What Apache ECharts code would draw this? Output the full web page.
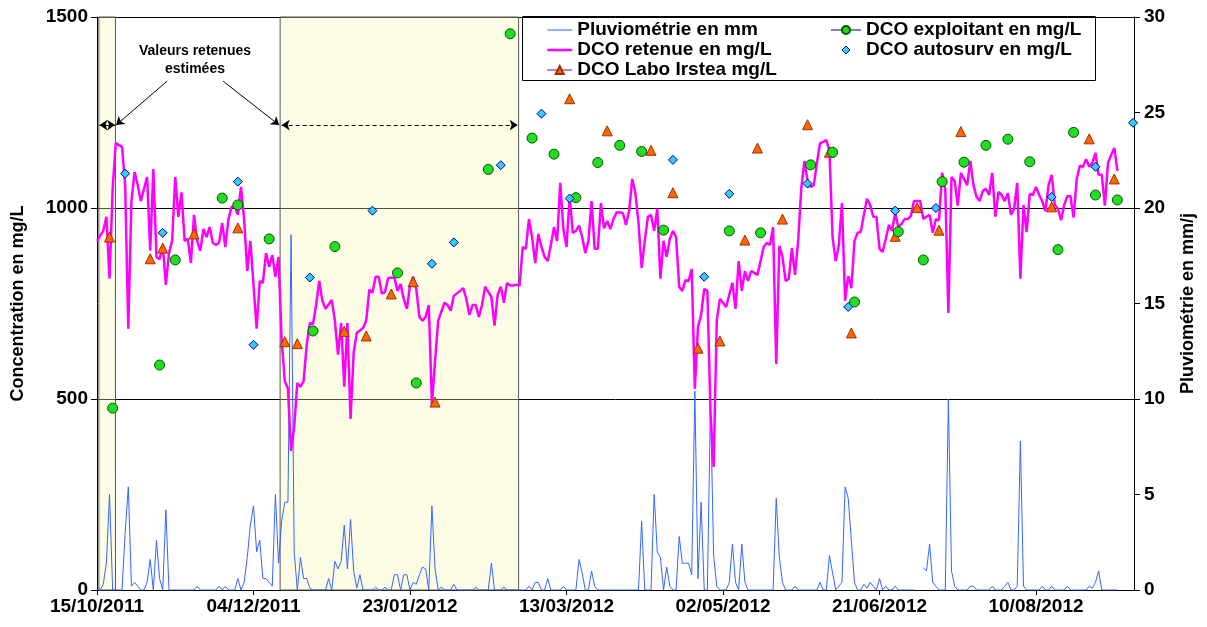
<!DOCTYPE html>
<html>
<head>
<meta charset="utf-8">
<script src="https://cdn.jsdelivr.net/npm/echarts@6/dist/echarts.min.js"></script>
<style>
html, body { margin: 0; background: #fff; }
#main-chart { width: 1207px; height: 627px; }
</style>
</head>
<body>
<div id="main-chart"></div>
<script>
// jours comptés depuis le 15/10/2011
const startDate = new Date(2011, 9, 15)

// pluviométrie journalière (mm/j), jour 0 à 326
const pluvio = [
  0, 0, 0.3, 1.4, 5, 0, 0, 0, 0, 3,
  5.4, 0.2, 0.4, 0.2, 0, 0, 0.4, 1.6, 0, 2.6,
  0.6, 0, 4.2, 0, 0, 0, 0, 0, 0, 0,
  0, 0, 0.2, 0, 0, 0, 0, 0, 0, 0.2,
  0, 0.2, 0, 0, 0, 0.6, 0, 0.4, 1.7, 3.4,
  4.4, 2, 2.6, 0.6, 0.6, 0.4, 0.2, 5, 1.4, 3.6,
  4.6, 4.6, 18.6, 2, 0, 1.7, 0.6, 0.6, 0.1, 0,
  0, 0, 0, 0, 0.6, 0, 1.5, 1.1, 1.5, 3.4,
  1.1, 3.7, 1, 0.1, 0.8, 0, 0, 0, 0, 0.15,
  0, 0, 0.15, 0, 0, 0.8, 0.8, 0, 0.8, 0.8,
  0, 0.4, 0.3, 0.8, 1.2, 1.1, 0, 4.4, 1.1, 0,
  0.15, 0, 0, 0, 0.3, 0, 0, 0, 0, 0,
  0, 0.15, 0, 0, 0, 0, 1.4, 0, 0, 0,
  0.15, 0, 0, 0, 0, 0, 0, 0, 0.2, 0,
  0.4, 0.4, 0, 0, 0.6, 0, 0, 0, 0, 0.2,
  0, 0, 0, 0, 1.6, 0.9, 0, 0, 1, 0.2,
  0, 0, 0, 0, 0, 0, 0, 0, 0, 0,
  0, 0, 0, 0, 3.6, 0, 0, 0, 5, 2,
  1.7, 0, 1.2, 0.2, 0, 0, 2.8, 1.4, 1.4, 1.4,
  0.8, 10.4, 0.6, 4.6, 0, 0, 9.8, 1.8, 0.2, 0,
  0, 0, 0.4, 2.4, 0.4, 0, 2.4, 0.4, 0, 0,
  0, 0, 0, 0, 0, 0, 0, 4.8, 1.7, 0.4,
  0, 0, 0, 0.2, 0, 0, 0, 0, 0, 0,
  0, 0.4, 0, 0, 1.8, 0.9, 0, 0.2, 0.4, 5.4,
  4.8, 2.6, 0.4, 0, 0, 0.3, 0.1, 0.4, 0.2, 0,
  0.6, 0, 0.2, 0, 0, 0.2, 0, 0, 0, 0,
  0, 0, null, null, 1.15, 1, 2.4, 0.4, 0.2, 0,
  0, 0, 10, 1, 0.2, 0, 0, 0, 0, 0.2,
  0.2, 0, 0, 0, 0, 0, 0.2, 0, 0, 0,
  0.2, 0.4, 0, 0, 0.2, 7.8, 0.2, 0, 0, 0,
  0, 0, 0.2, 0, 0, 0.2, 0, 0, 0, 0,
  0.2, 0, 0, 0, 0, 0, 0, 0.2, 0.1, 0.4,
  1, 0, 0, 0, 0, 0, 0
]

// DCO retenue [jour, mg/L]
const dcoRetenue = [
  [0,914],[2,940],[3,977],[4,815],[5,1050],[6,1170],[8,1160],[9,1060],[10,684],[11,1018],
  [12,1094],[13,1060],[14,1018],[16,1081],[17,888],[18,1102],[19,872],[20,866],[21,903],[22,799],
  [23,882],[24,914],[25,1081],[26,977],[27,1041],[28,914],[29,919],[30,856],[31,982],[32,914],
  [33,888],[34,945],[35,924],[36,950],[37,909],[38,903],[39,909],[40,961],[41,898],[42,971],
  [43,1003],[44,1003],[45,982],[46,1055],[47,971],[48,835],[49,914],[50,799],[51,684],[52,809],
  [53,804],[54,882],[55,846],[56,877],[57,820],[58,872],[59,652],[60,547],[61,527],[62,364],
  [63,427],[64,542],[65,532],[66,547],[67,642],[68,699],[69,696],[70,746],[71,809],[72,757],
  [73,736],[75,759],[76,705],[77,616],[78,699],[79,532],[80,699],[81,448],[82,621],[83,673],
  [85,686],[86,705],[87,786],[88,778],[89,820],[90,820],[91,776],[92,780],[93,817],[95,818],
  [96,783],[97,801],[98,762],[99,736],[100,797],[101,820],[102,788],[103,715],[104,705],[105,715],
  [106,746],[107,485],[108,600],[109,705],[111,752],[112,746],[113,731],[114,770],[116,783],[117,790],
  [118,762],[119,720],[120,746],[121,746],[122,715],[123,746],[124,794],[126,767],[127,692],[128,773],
  [129,794],[130,752],[131,804],[132,797],[133,797],[134,799],[135,797],[136,898],[137,893],[138,971],
  [139,924],[140,856],[141,932],[142,898],[143,872],[144,861],[145,903],[146,950],[147,914],[148,1066],
  [149,945],[150,898],[151,1029],[152,935],[153,940],[154,954],[155,924],[156,882],[157,914],[158,1018],
  [159,893],[160,893],[161,1013],[162,947],[163,966],[164,945],[165,971],[166,989],[167,988],[168,987],
  [169,956],[170,992],[171,1076],[172,1039],[173,961],[174,843],[175,914],[176,977],[177,982],[178,940],
  [179,998],[180,815],[181,914],[182,872],[183,919],[184,940],[185,924],[186,794],[187,783],[188,811],
  [189,809],[190,840],[191,527],[192,689],[193,720],[194,788],[195,783],[196,464],[197,322],[198,705],
  [199,762],[200,752],[201,741],[202,773],[203,804],[204,736],[205,861],[206,783],[207,835],[208,809],
  [209,835],[210,830],[211,825],[212,861],[213,898],[214,909],[215,903],[216,950],[217,591],[218,901],
  [219,872],[220,809],[221,814],[222,895],[223,825],[224,914],[225,1050],[226,1123],[227,1071],[228,1055],
  [229,1060],[230,1118],[231,1170],[232,1173],[233,1178],[234,1149],[235,924],[236,861],[237,903],[238,1013],
  [239,757],[240,822],[241,790],[242,914],[243,935],[244,937],[245,982],[246,1024],[247,1008],[248,977],
  [249,977],[250,893],[251,885],[252,919],[253,956],[254,940],[255,987],[256,950],[257,958],[258,971],
  [259,971],[260,979],[261,1018],[262,1018],[263,1018],[264,971],[265,977],[266,982],[267,935],[268,971],
  [269,968],[270,1092],[271,1050],[272,725],[273,1081],[274,1071],[275,1006],[276,1092],[278,1060],[279,1123],
  [280,1060],[281,1029],[282,1018],[283,1045],[284,1050],[285,1034],[286,1092],[287,977],[288,1042],[289,1034],
  [290,1018],[291,1039],[292,982],[293,998],[294,1066],[295,815],[296,1008],[297,937],[298,1037],[299,1034],
  [300,1055],[301,1034],[302,1018],[303,992],[304,1060],[305,1087],[306,1008],[307,998],[308,968],[309,1008],
  [310,1031],[311,1031],[312,975],[313,1076],[314,1111],[315,1108],[316,1128],[317,1108],[318,1118],[319,1144],
  [320,1087],[321,1087],[322,1006],[323,1118],[324,1139],[325,1157],[326,1097]
]

// DCO Labo Irstea [jour, mg/L]
const dcoLabo = [
  [4,924],[17,867],[21,895],[31,932],[45,948],[60,650],[64,645],[79,677],[86,665],[94,775],
  [101,807],[108,492],[151,1286],[163,1202],[177,1151],[184,1040],[192,633],[199,652],[207,916],[211,1157],
  [219,971],[227,1218],[234,1146],[241,673],[255,926],[262,1001],[269,942],[276,1200],[305,1003],[317,1181],
  [325,1076]
]

// DCO exploitant [jour, mg/L]
const dcoExploitant = [
  [5,476],[20,589],[25,864],[40,1026],[45,1008],[55,919],[69,678],[76,899],[96,830],[102,542],
  [125,1101],[132,1456],[139,1183],[146,1141],[153,1027],[160,1119],[167,1164],[174,1148],[181,942],[202,940],
  [212,935],[228,1113],[235,1146],[242,754],[256,938],[264,864],[270,1069],[277,1120],[284,1164],[291,1180],
  [298,1121],[307,891],[312,1198],[319,1034],[326,1021]
]

// DCO autosurv [jour, mg/L]
const dcoAutosurv = [
  [9,1090],[21,935],[45,1069],[50,642],[68,818],[88,993],[107,854],[114,910],[129,1112],[142,1247],
  [151,1025],[184,1126],[194,820],[202,1037],[227,1064],[240,741],[255,993],[268,1000],[305,1029],[319,1108],
  [331,1223]
]

// périodes où les valeurs retenues sont estimées (jours)
const periodesEstimees = [[0.6, 5.9], [58.5, 134.7]]

const font = '"Liberation Sans", Arial, sans-serif'
const myChart = echarts.init(document.getElementById('main-chart'))

function dayLabel(v) {
    if (v % 50 !== 0) return ''
    const d = new Date(startDate.getTime())
    d.setDate(d.getDate() + v)
    const p = n => (n < 10 ? '0' : '') + n
    return p(d.getDate()) + '/' + p(d.getMonth() + 1) + '/' + d.getFullYear()
}

const boldText = { fontFamily: font, fontWeight: 'bold', fontSize: 19, color: '#000' }
const titleText = { fontFamily: font, fontWeight: 'bold', fontSize: 18, color: '#000' }
const noSymbol = { opacity: 0 }

const option = {
    animation: false,
    grid: { left: 97, right: 73, top: 17, bottom: 37 },
    xAxis: {
        type: 'value', min: 0, max: 331.3, interval: 50,
        axisLine: { lineStyle: { color: '#000', width: 1 } },
        axisTick: { length: 5, lineStyle: { color: '#000' } },
        axisLabel: Object.assign({ margin: 7, formatter: dayLabel, showMaxLabel: false }, boldText),
        splitLine: { show: false }
    },
    yAxis: [{
        type: 'value', min: 0, max: 1500, interval: 500,
        name: 'Concentration en mg/L', nameLocation: 'middle', nameRotate: 90, nameGap: 70,
        nameTextStyle: titleText,
        axisLine: { show: true, lineStyle: { color: '#000' } },
        axisTick: { show: true, length: 6, lineStyle: { color: '#000' } },
        axisLabel: Object.assign({ margin: 9, formatter: v => String(v) }, boldText),
        splitLine: { lineStyle: { color: '#000', width: 1 } }
    }, {
        type: 'value', min: 0, max: 30, interval: 5, position: 'right',
        name: 'Pluviométrie en mm/j', nameLocation: 'middle', nameRotate: 90, nameGap: 45,
        nameTextStyle: titleText,
        axisLine: { show: true, lineStyle: { color: '#000' } },
        axisTick: { show: true, length: 6, lineStyle: { color: '#000' } },
        axisLabel: Object.assign({ margin: 10 }, boldText),
        splitLine: { show: false }
    }],
    legend: [{
        orient: 'vertical', left: 541, top: 15, itemWidth: 25, itemHeight: 10, itemGap: 0,
        textStyle: Object.assign({ lineHeight: 20 }, boldText),
        data: [
            { name: 'Pluviométrie en mm', itemStyle: noSymbol, lineStyle: { color: '#3366FF', width: 1 } },
            { name: 'DCO retenue en mg/L', itemStyle: noSymbol, lineStyle: { color: '#FF00FF', width: 2.5 } },
            { name: 'DCO Labo Irstea mg/L', lineStyle: { opacity: 1, color: '#800080', width: 1 } }
        ]
    }, {
        orient: 'vertical', left: 825, top: 15, itemWidth: 30, itemHeight: 10, itemGap: 0,
        textStyle: Object.assign({ lineHeight: 20 }, boldText),
        data: [
            { name: 'DCO exploitant en mg/L', lineStyle: { opacity: 1, color: '#000080', width: 1 } },
            { name: 'DCO autosurv en mg/L',
              itemStyle: { color: '#33CCFF', borderColor: '#000080', borderWidth: 1 } }
        ]
    }],
    graphic: [{
        type: 'rect', z: 10,
        shape: { x: 522.5, y: 16.5, width: 573, height: 64 },
        style: { fill: 'none', stroke: '#000', lineWidth: 1 }
    }, {
        type: 'text', x: 195, y: 42, z: 10,
        style: {
            text: 'Valeurs retenues\nestimées', align: 'center', lineHeight: 18,
            font: 'bold 14px ' + font, fill: '#000'
        }
    }],
    series: [{
        // fond : périodes estimées + flèches
        name: 'fond', type: 'line', data: [], z: 1,
        markArea: {
            silent: true,
            itemStyle: { color: 'rgba(250,250,180,0.33)', borderColor: '#555', borderWidth: 1 },
            data: periodesEstimees.map(p => [{ xAxis: p[0] }, { xAxis: p[1] }])
        },
        markLine: {
            silent: true, symbol: ['none', 'arrow'], symbolSize: 8,
            label: { show: false },
            lineStyle: { color: '#000', width: 1, type: 'solid' },
            data: [
                [{ coord: [22.4, 1332] }, { coord: [6.1, 1217] }],
                [{ coord: [40.3, 1332] }, { coord: [58.2, 1217] }],
                [{ coord: [0.8, 1217], symbol: 'arrow' }, { coord: [5.8, 1217], symbol: 'arrow' }],
                [{ coord: [59, 1217], symbol: 'arrow', lineStyle: { type: [4, 3] } },
                 { coord: [134.4, 1217], symbol: 'arrow' }]
            ]
        }
    }, {
        name: 'Pluviométrie en mm', type: 'line', yAxisIndex: 1, z: 2,
        data: pluvio.map((v, i) => [i, v]),
        symbol: 'none', connectNulls: false,
        lineStyle: { color: '#3366FF', width: 1 }, itemStyle: { color: '#3366FF' }
    }, {
        name: 'DCO retenue en mg/L', type: 'line', z: 3,
        data: dcoRetenue, symbol: 'none',
        lineStyle: { color: '#FF00FF', width: 2.5 }, itemStyle: { color: '#FF00FF' }
    }, {
        name: 'DCO Labo Irstea mg/L', type: 'line', z: 4,
        data: dcoLabo, symbol: 'triangle', symbolSize: 10, showSymbol: true,
        lineStyle: { opacity: 0 },
        itemStyle: { color: '#FF6600', borderColor: '#993300', borderWidth: 1 }
    }, {
        name: 'DCO exploitant en mg/L', type: 'line', z: 4,
        data: dcoExploitant, symbol: 'circle', symbolSize: 10, showSymbol: true,
        lineStyle: { opacity: 0 },
        itemStyle: { color: '#22DD22', borderColor: '#005500', borderWidth: 1 }
    }, {
        name: 'DCO autosurv en mg/L', type: 'line', z: 4,
        data: dcoAutosurv, symbol: 'diamond', symbolSize: 9, showSymbol: true,
        lineStyle: { opacity: 0 },
        itemStyle: { color: '#33CCFF', borderColor: '#000080', borderWidth: 1 }
    }]
}

myChart.setOption(option)
</script>
</body>
</html>
